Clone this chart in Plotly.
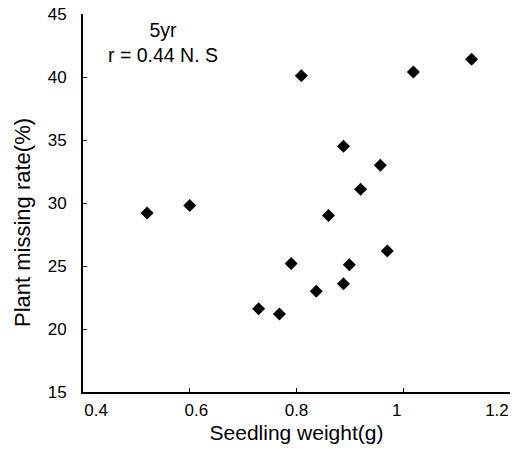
import plotly.graph_objects as go

# Seedling weight (g) vs plant missing rate (%)
seedling_weight = [0.52, 0.60, 0.729, 0.768, 0.79, 0.809, 0.837, 0.86, 0.888, 0.888,
                   0.899, 0.92, 0.957, 0.97, 1.019, 1.128]
missing_rate = [29.2, 29.8, 21.6, 21.2, 25.2, 40.1, 23.0, 29.0, 34.5, 23.6,
                25.1, 31.1, 33.0, 26.2, 40.4, 41.4]

x_ticks = [0.4, 0.6, 0.8, 1.0, 1.2]
x_ticktext = ['0.4', '0.6', '0.8', '1', '1.2']
y_ticks = [15, 20, 25, 30, 35, 40, 45]

FONT = 'Liberation Sans, Arial, sans-serif'
tick_font = dict(family=FONT, size=17, color='black')

W, H = 512, 458
ML, MR, MT, MB = 83, 2, 14, 66

fig = go.Figure()

fig.add_trace(
    go.Scatter(
        x=seedling_weight,
        y=missing_rate,
        mode='markers',
        marker=dict(symbol='diamond', size=10, color='black', line=dict(width=0)),
        showlegend=False,
        hoverinfo='x+y'
    )
)

# empty trace so the label-only axis (x2) gets drawn
fig.add_trace(go.Scatter(x=[], y=[], xaxis='x2', showlegend=False, hoverinfo='skip'))

fig.update_layout(
    xaxis=dict(
        range=[0.4, 1.2],
        tickvals=x_ticks,
        showticklabels=False,
        ticks='inside', ticklen=4, tickcolor='black',
        showline=True, linecolor='black', linewidth=1.8,
        showgrid=False, zeroline=False,
        automargin=False
    ),
    # the original spreads its x labels a bit narrower than its tick marks
    xaxis2=dict(
        overlaying='x', side='bottom', anchor='y',
        range=[0.374, 1.226],
        tickvals=x_ticks,
        ticktext=x_ticktext,
        ticks='', showline=False, showgrid=False, zeroline=False,
        tickfont=tick_font,
        ticklabelstandoff=6,
        ticklabeloverflow='allow',
        automargin=False,
        title=dict(text='Seedling weight(g)', font=dict(family=FONT, size=21, color='black'), standoff=6)
    ),
    yaxis=dict(
        range=[15, 45],
        tickvals=y_ticks,
        ticks='inside', ticklen=4, tickcolor='black',
        showline=True, linecolor='black', linewidth=1.8,
        showgrid=False, zeroline=False,
        tickfont=tick_font,
        ticklabelstandoff=11,
        ticklabeloverflow='allow',
        automargin=False
    )
)

# y title placed as in the original (sits a little below the axis middle)
plot_w = W - ML - MR
plot_h = H - MT - MB
fig.add_annotation(
    x=(22 - ML) / plot_w, y=(H - MB - 223) / plot_h, xref='paper', yref='paper',
    text='Plant missing rate(%)', textangle=-90,
    showarrow=False, xanchor='center', yanchor='middle',
    font=dict(family=FONT, size=22, color='black')
)

fig.add_annotation(
    x=0.549, y=44.75, xref='x', yref='y',
    text='5yr<br>r = 0.44 N. S',
    showarrow=False, align='center',
    xanchor='center', yanchor='top',
    font=dict(family=FONT, size=19.5, color='black')
)

fig.update_layout(
    width=W, height=H,
    margin=dict(l=ML, r=MR, t=MT, b=MB),
    plot_bgcolor='white',
    paper_bgcolor='white'
)

# drop the default 8px page margin so the figure sits at the window corner
fig.write_html("out.html", config={'displayModeBar': False},
               post_script="document.body.style.margin='0';")
